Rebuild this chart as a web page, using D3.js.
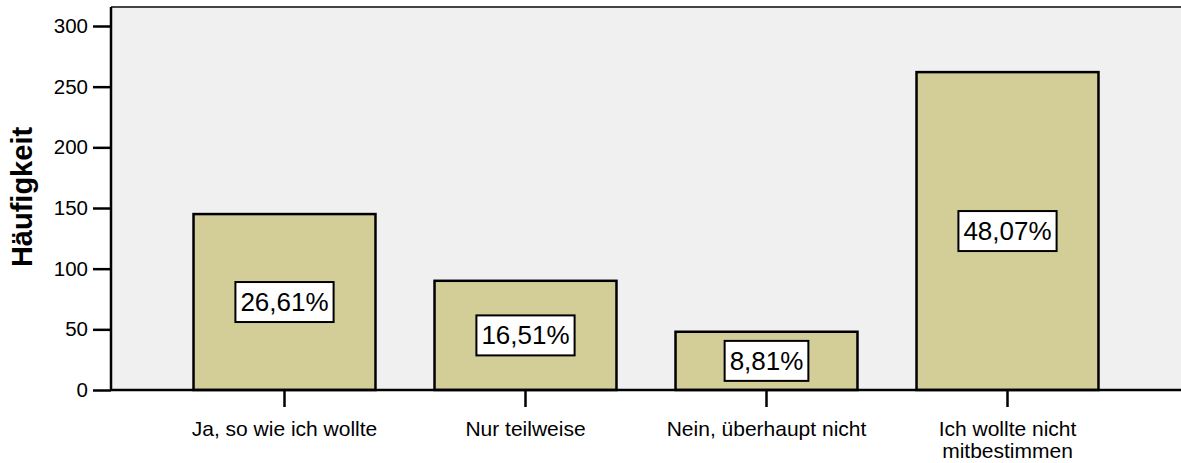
<!DOCTYPE html>
<html>
<head>
<meta charset="utf-8">
<script src="https://cdn.jsdelivr.net/npm/d3@7"></script>
<style>
    body { margin: 0; background: #fff; }
    text { font-family: "Liberation Sans", Arial, Helvetica, sans-serif; fill: #000; }
</style>
</head>
<body>
<svg id="chart" width="1181" height="463"></svg>
<script>
// data (N = 545)
var categories = ["Ja, so wie ich wollte", "Nur teilweise", "Nein, überhaupt nicht", "Ich wollte nicht\nmitbestimmen"];
var counts = [145, 90, 48, 262];
var percentLabels = ["26,61%", "16,51%", "8,81%", "48,07%"];
var yTicks = [0, 50, 100, 150, 200, 250, 300];

var svg = d3.select('#chart');
var width = 1181, height = 463;

var plotLeft = 111, plotRight = 1181, plotTop = 7, plotBottom = 390;

var x = d3.scaleBand()
    .domain(categories)
    .range([164, 1128])
    .paddingInner(0.245)
    .paddingOuter(0.1225);

var y = d3.scaleLinear()
    .domain([0, 300])
    .range([plotBottom, 26]);

// plot background
svg.append('rect')
    .attr('x', plotLeft)
    .attr('y', plotTop)
    .attr('width', plotRight - plotLeft)
    .attr('height', plotBottom - plotTop)
    .style('fill', '#f0f0f0');

// top border
svg.append('line')
    .attr('x1', plotLeft).attr('x2', plotRight)
    .attr('y1', plotTop).attr('y2', plotTop)
    .style('stroke', '#444').style('stroke-width', 2);

// bars
var bars = svg.append('g').attr('class', 'bars')
    .selectAll('g')
    .data(categories)
    .enter().append('g');

bars.append('rect')
    .attr('x', function(d) { return x(d); })
    .attr('width', x.bandwidth())
    .attr('y', function(d, i) { return y(counts[i]); })
    .attr('height', function(d, i) { return y(0) - y(counts[i]); })
    .style('fill', '#d3ce98')
    .style('stroke', '#000')
    .style('stroke-width', 2.5);

// percent labels in boxes
bars.each(function(d, i)
{
    var gg = d3.select(this);
    var cx = x(d) + x.bandwidth() / 2;
    var cy = (y(0) + y(counts[i])) / 2;
    var t = gg.append('text')
        .attr('x', cx)
        .attr('y', cy + 9)
        .attr('text-anchor', 'middle')
        .style('font-size', '26px')
        .text(percentLabels[i]);
    var bb = t.node().getBBox();
    gg.insert('rect', 'text')
        .attr('x', cx - bb.width / 2 - 5)
        .attr('y', cy - 20)
        .attr('width', bb.width + 10)
        .attr('height', 40)
        .style('fill', '#fff')
        .style('stroke', '#000')
        .style('stroke-width', 2);
});

// y axis
var yAxis = svg.append('g')
    .attr('transform', 'translate(' + plotLeft + ',0)')
    .call(d3.axisLeft(y).tickValues(yTicks).tickSize(18).tickPadding(5).tickFormat(d3.format('d')));
yAxis.attr('font-size', 20).attr('font-family', '"Liberation Sans", Arial, sans-serif');
yAxis.select('.domain').attr('d', 'M0,' + plotTop + 'V' + plotBottom);
yAxis.selectAll('line, path').style('stroke', '#000').style('stroke-width', 2.5);
yAxis.selectAll('text').style('font-size', '20.5px').attr('fill', '#000');

// x axis
var xAxis = svg.append('g')
    .attr('transform', 'translate(0,' + plotBottom + ')')
    .call(d3.axisBottom(x).tickSize(17).tickFormat(''));
xAxis.select('.domain').attr('d', 'M' + plotLeft + ',0H' + plotRight);
xAxis.selectAll('line, path').style('stroke', '#000').style('stroke-width', 2.5);

xAxis.selectAll('.tick').each(function(d)
{
    var lines = d.split('\n');
    var t = d3.select(this).append('text')
        .attr('text-anchor', 'middle')
        .style('font-size', '21px')
        .style('font-family', '"Liberation Sans", Arial, sans-serif')
        .attr('fill', '#000');
    lines.forEach(function(l, j)
    {
        t.append('tspan').attr('x', 0).attr('y', 46 + j * 22).text(l);
    });
});

// y title
svg.append('text')
    .attr('transform', 'translate(32,197) rotate(-90)')
    .attr('text-anchor', 'middle')
    .style('font-size', '29px')
    .style('font-weight', 'bold')
    .text('Häufigkeit');
</script>
</body>
</html>
